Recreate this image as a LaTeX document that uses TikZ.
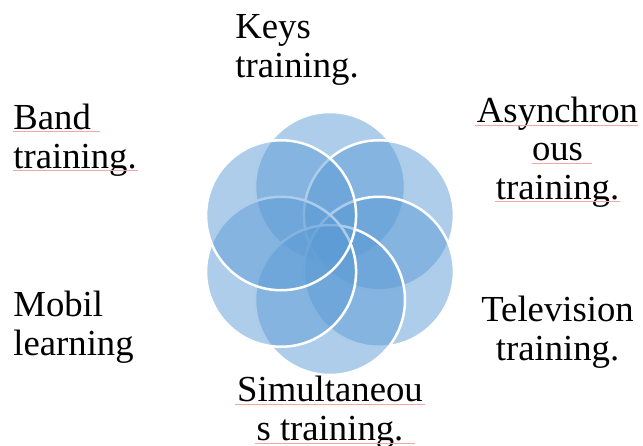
\documentclass[tikz,border=0pt]{standalone}
\usepackage{fontspec}
\setmainfont{Liberation Serif}
\definecolor{petalblue}{HTML}{5B9BD5}
\definecolor{spellred}{HTML}{F2A7A7}

\begin{document}
\begin{tikzpicture}[x=0.5pt, y=-0.5pt,
	petal/.style={circle, minimum size=75pt, inner sep=0pt, fill=petalblue,
		fill opacity=0.5, draw=white, draw opacity=1, line width=1.25pt},
	lbl/.style={inner sep=0pt, font=\fontsize{18.35pt}{19.25pt}\selectfont},
	spell/.style={draw=spellred, line width=0.5pt}]
	\useasboundingbox (0,0) rectangle (643,445);
	\coordinate (hub) at (330,243.5);

	% petals, clockwise from the top
	\node[petal] (keysp)  at ([shift={(90:28.25pt)}]hub)  {};
	\node[petal] (asynp)  at ([shift={(30:28.25pt)}]hub)  {};
	\node[petal] (telep)  at ([shift={(-30:28.25pt)}]hub) {};
	\node[petal] (simup)  at ([shift={(-90:28.25pt)}]hub) {};
	\node[petal] (mobilp) at ([shift={(210:28.25pt)}]hub) {};
	\node[petal] (bandp)  at ([shift={(150:28.25pt)}]hub) {};

	% texts, placed by the baseline of their last line
	\node[lbl, align=left, anchor=base west]   (keys)  at (235,77)    {Keys\\training.};
	\node[lbl, align=left, anchor=base west]   (band)  at (13,168)    {Band\\training.};
	\node[lbl, align=center, anchor=base]      (asyn)  at (557.5,199) {Asynchron\\ous\\training.};
	\node[lbl, align=center, anchor=base]      (tele)  at (557.5,360) {Television\\training.};
	\node[lbl, align=left, anchor=base west]   (mobil) at (13,355)    {Mobil\\learning};
	\node[lbl, align=center, anchor=base]      (simu)  at (330,440)   {Simultaneou\\s training.};

	% spelling marks
	\draw[spell] (13,131) -- (100,131);
	\draw[spell] (13,170) -- (138,170);
	\draw[spell] (475,125) -- (638,125);
	\draw[spell] (532,163) -- (592,163);
	\draw[spell] (495,201) -- (620,201);
	\draw[spell] (235,404) -- (425,404);
	\draw[spell] (255,443) -- (415,443);
\end{tikzpicture}
\end{document}
